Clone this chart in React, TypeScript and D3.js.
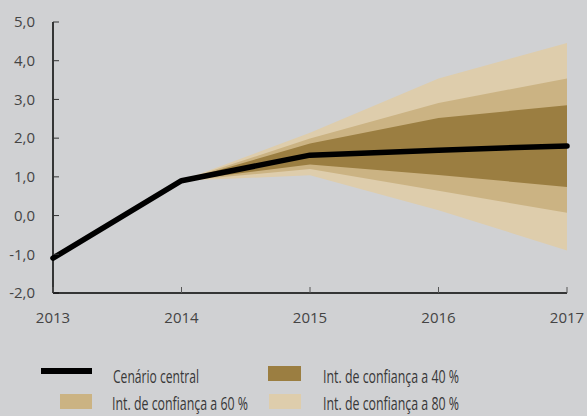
import React from 'react';
import * as d3 from 'd3';

const years = [2013, 2014, 2015, 2016, 2017];
const central = [-1.1, 0.9, 1.56, 1.69, 1.8];

// fan bands start at 2014
const fanYears = [2014, 2015, 2016, 2017];
const lo80 = [0.9, 1.04, 0.14, -0.9];
const hi80 = [0.9, 2.14, 3.54, 4.46];
const lo60 = [0.9, 1.2, 0.64, 0.07];
const hi60 = [0.9, 1.99, 2.91, 3.54];
const lo40 = [0.9, 1.32, 1.05, 0.74];
const hi40 = [0.9, 1.86, 2.52, 2.85];

const yTicks = [-2, -1, 0, 1, 2, 3, 4, 5];

const colors = { c40: '#9b7e41', c60: '#cbb383', c80: '#decdac', bg: '#d0d1d3' };

const W = 587;
const H = 416;
const margin = { left: 53, right: 20, top: 22, bottom: 123 };

export default function App() {
    const x = d3.scaleLinear().domain([2013, 2017]).range([margin.left, W - margin.right]);
    const y = d3.scaleLinear().domain([-2, 5]).range([H - margin.bottom, margin.top]);

    const band = (lo: number[], hi: number[]) =>
        d3.area<number>()
            .x((d) => x(d))
            .y0((d, i) => y(lo[i]))
            .y1((d, i) => y(hi[i]))(fanYears) || '';

    const line = d3.line<number>()
        .x((d) => x(d))
        .y((d, i) => y(central[i]))(years) || '';

    const tickColor = '#444';
    const labelFont = "'Open Sans', sans-serif";
    const x0 = x.range()[0];
    const y0 = y.range()[0];

    return (
        <svg width={W} height={H} style={{ position: 'absolute', left: 0, top: 0, display: 'block' }}>
            <rect width={W} height={H} fill={colors.bg} />
            <path d={band(lo80, hi80)} fill={colors.c80} />
            <path d={band(lo60, hi60)} fill={colors.c60} />
            <path d={band(lo40, hi40)} fill={colors.c40} />
            <path d={line} fill="none" stroke="#000" strokeWidth={5.5} strokeLinejoin="round" strokeLinecap="round" />

            {/* y axis */}
            <line x1={x0} x2={x0} y1={y(5)} y2={y0} stroke="#000" strokeWidth={1.5} />
            {yTicks.map((t) => (
                <g key={t}>
                    <line x1={x0} x2={x0 + 6} y1={y(t)} y2={y(t)} stroke="#333" strokeWidth={1} />
                    <text x={35} y={y(t)} dy="0.35em" textAnchor="end" fontSize={15} fill={tickColor} fontFamily={labelFont}>
                        {t.toFixed(1).replace('.', ',')}
                    </text>
                </g>
            ))}

            {/* x axis */}
            <line x1={x0} x2={x(2017)} y1={y0} y2={y0} stroke="#000" strokeWidth={1.5} />
            {years.map((yr) => (
                <g key={yr}>
                    <line x1={x(yr)} x2={x(yr)} y1={y0} y2={y0 - 6} stroke="#555" strokeWidth={1} />
                    <text x={x(yr)} y={y0 + 30} textAnchor="middle" fontSize={15} fill={tickColor} fontFamily={labelFont}>
                        {yr}
                    </text>
                </g>
            ))}

            {/* legend */}
            <g fontFamily={labelFont} fontSize={19} fill="#383838">
                <rect x={41} y={368} width={51} height={6} fill="#000" />
                <text x={113} y={383} textLength={86} lengthAdjust="spacingAndGlyphs">Cenário central</text>
                <rect x={268} y={366} width={33} height={15} fill={colors.c40} />
                <text x={323} y={383} textLength={136} lengthAdjust="spacingAndGlyphs">Int. de confiança a 40 %</text>
                <rect x={60} y={394} width={32} height={15} fill={colors.c60} />
                <text x={112} y={410} textLength={136} lengthAdjust="spacingAndGlyphs">Int. de confiança a 60 %</text>
                <rect x={269} y={394} width={32} height={15} fill={colors.c80} />
                <text x={323} y={410} textLength={136} lengthAdjust="spacingAndGlyphs">Int. de confiança a 80 %</text>
            </g>
        </svg>
    );
}
